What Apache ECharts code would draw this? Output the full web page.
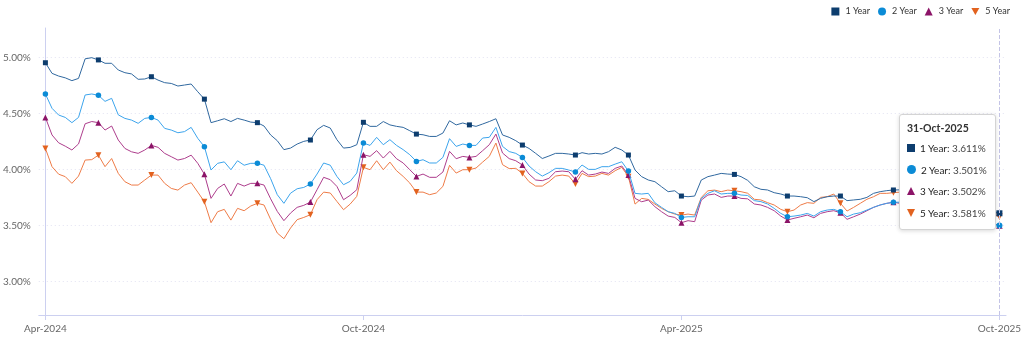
<!DOCTYPE html>
<html>
<head>
<meta charset="utf-8">
<script src="https://cdn.jsdelivr.net/npm/echarts@6/dist/echarts.min.js"></script>
<style>
html,body{margin:0;padding:0;background:#fff;}
#chart{width:1024px;height:338px;}
</style>
</head>
<body>
<div id="chart"></div>
<script>
// ---- data ----
const seriesNames = ['1 Year', '2 Year', '3 Year', '5 Year'];
const startDate = Date.UTC(2024, 3, 3);   // first observation
const stepDays = 4;                        // spacing of sampled observations
const xTickIndex = [0, 48, 96, 144];
const xTickLabels = ['Apr-2024', 'Oct-2024', 'Apr-2025', 'Oct-2025'];
const yTickValues = [3.0, 3.5, 4.0, 4.5, 5.0];

const y1 = [4.955,4.86,4.836,4.82,4.795,4.815,4.99,5.0,4.98,4.95,4.95,4.89,4.866,4.855,4.807,4.81,4.83,4.80,4.777,4.77,
4.747,4.756,4.765,4.696,4.63,4.42,4.437,4.455,4.43,4.458,4.443,4.425,4.42,4.39,4.31,4.259,4.179,4.193,4.229,4.253,
4.265,4.357,4.396,4.372,4.268,4.193,4.199,4.223,4.423,4.387,4.387,4.43,4.40,4.387,4.378,4.348,4.318,4.312,4.297,4.297,
4.327,4.437,4.40,4.417,4.40,4.387,4.408,4.43,4.455,4.31,4.289,4.259,4.22,4.19,4.146,4.10,4.122,4.146,4.146,4.14,
4.131,4.152,4.14,4.146,4.14,4.161,4.20,4.176,4.131,3.997,3.938,3.908,3.893,3.848,3.804,3.812,3.765,3.759,3.765,3.908,
3.938,3.952,3.967,3.961,3.958,3.938,3.905,3.848,3.825,3.819,3.795,3.783,3.765,3.765,3.759,3.75,3.715,3.744,3.759,3.765,
3.765,3.724,3.73,3.736,3.753,3.789,3.804,3.813,3.819,3.82,3.83,3.82,3.81,3.80,3.81,3.79,3.78,3.77,3.76,3.74,
3.72,3.69,3.66,3.63,3.611];

const y2 = [4.676,4.548,4.488,4.467,4.42,4.467,4.667,4.676,4.664,4.61,4.637,4.49,4.458,4.443,4.414,4.458,4.467,4.443,4.369,4.354,
4.33,4.34,4.378,4.28,4.205,3.997,4.057,4.07,4.0,4.08,4.04,4.057,4.057,4.04,3.92,3.777,3.70,3.79,3.83,3.842,
3.872,3.961,4.06,4.04,3.94,3.866,3.896,3.97,4.238,4.217,4.289,4.223,4.268,4.217,4.179,4.134,4.074,4.089,4.06,4.06,
4.11,4.277,4.208,4.229,4.217,4.217,4.283,4.289,4.378,4.208,4.162,4.146,4.11,4.033,3.982,3.943,3.973,4.012,4.012,3.997,
3.979,4.042,4.003,4.003,4.027,4.027,4.05,4.071,3.988,3.789,3.783,3.789,3.705,3.664,3.625,3.61,3.574,3.58,3.58,3.744,
3.789,3.812,3.783,3.789,3.789,3.774,3.77,3.724,3.715,3.694,3.655,3.61,3.58,3.586,3.595,3.61,3.586,3.625,3.64,3.646,
3.625,3.58,3.604,3.616,3.64,3.664,3.685,3.70,3.709,3.71,3.72,3.70,3.69,3.68,3.69,3.67,3.65,3.64,3.62,3.60,
3.58,3.56,3.54,3.52,3.501];

const y3 = [4.467,4.31,4.24,4.21,4.176,4.23,4.41,4.43,4.42,4.354,4.39,4.265,4.19,4.16,4.146,4.176,4.217,4.20,4.146,4.116,
4.086,4.10,4.13,4.057,3.96,3.744,3.833,3.872,3.765,3.878,3.854,3.878,3.878,3.863,3.74,3.628,3.545,3.613,3.664,3.682,
3.711,3.821,3.932,3.911,3.851,3.732,3.771,3.821,4.134,4.119,4.17,4.104,4.164,4.098,4.06,4.0,3.94,3.961,3.932,3.932,
3.979,4.164,4.098,4.119,4.11,4.119,4.17,4.223,4.318,4.149,4.099,4.08,4.042,3.961,3.908,3.902,3.923,3.982,3.988,3.982,
3.914,3.991,3.952,3.961,3.979,3.967,4.012,4.033,3.952,3.744,3.714,3.729,3.67,3.625,3.586,3.574,3.527,3.545,3.536,3.729,
3.774,3.783,3.753,3.765,3.765,3.744,3.74,3.694,3.685,3.664,3.634,3.586,3.551,3.566,3.58,3.595,3.571,3.61,3.625,3.634,
3.616,3.557,3.58,3.604,3.634,3.664,3.685,3.70,3.709,3.70,3.71,3.69,3.68,3.67,3.68,3.66,3.64,3.63,3.61,3.59,
3.57,3.55,3.53,3.52,3.502];

const y5 = [4.19,4.027,3.96,3.938,3.878,3.943,4.086,4.09,4.13,4.027,4.10,3.967,3.893,3.863,3.863,3.908,3.952,3.952,3.878,3.833,
3.818,3.863,3.884,3.80,3.714,3.527,3.625,3.646,3.55,3.655,3.634,3.676,3.70,3.685,3.556,3.435,3.384,3.479,3.554,3.574,
3.598,3.732,3.80,3.792,3.717,3.643,3.693,3.762,4.021,4.0,4.08,4.0,4.068,3.991,3.94,3.881,3.80,3.80,3.777,3.792,
3.851,4.039,3.97,4.0,4.0,4.015,4.068,4.119,4.238,4.045,4.01,4.012,3.967,3.893,3.854,3.854,3.893,3.943,3.952,3.943,
3.872,3.967,3.938,3.943,3.967,3.952,3.991,4.021,3.938,3.693,3.744,3.735,3.693,3.655,3.625,3.604,3.595,3.604,3.595,3.753,
3.812,3.818,3.804,3.818,3.812,3.804,3.79,3.736,3.73,3.706,3.685,3.646,3.625,3.64,3.685,3.706,3.70,3.753,3.759,3.783,
3.70,3.631,3.664,3.70,3.736,3.759,3.789,3.789,3.795,3.80,3.81,3.79,3.78,3.77,3.78,3.76,3.74,3.73,3.71,3.69,
3.67,3.64,3.62,3.60,3.581];

const seriesValues = [y1, y2, y3, y5];

// ---- styling ----
const markerColors = ['#0d3d6e', '#0b8bd6', '#8c1468', '#e2621f'];
const lineColors   = ['#30689f', '#3ca4ec', '#ad3d8c', '#ee7b47'];
const symbols = ['rect', 'circle', 'triangle', 'path://M0,0L10,0L5,9Z'];
const symbolSizes = [5, 5.5, 6, 6];
const markerEvery = 8;
const FONT = 'Lato, "Noto Sans", sans-serif';

const MONTHS = ['Jan','Feb','Mar','Apr','May','Jun','Jul','Aug','Sep','Oct','Nov','Dec'];
function dateLabel(idx) {
  const d = new Date(startDate + idx * stepDays * 86400000);
  const dd = String(d.getUTCDate()).padStart(2, '0');
  return dd + '-' + MONTHS[d.getUTCMonth()] + '-' + d.getUTCFullYear();
}

function markerHtml(k) {
  const c = markerColors[k];
  const base = 'display:inline-block;vertical-align:middle;margin-right:5px;position:relative;top:-1px;';
  if (k === 0) return '<span style="' + base + 'width:8px;height:8px;background:' + c + ';"></span>';
  if (k === 1) return '<span style="' + base + 'width:9px;height:9px;border-radius:50%;background:' + c + ';"></span>';
  if (k === 2) return '<span style="' + base + 'width:0;height:0;border-left:4.5px solid transparent;border-right:4.5px solid transparent;border-bottom:8px solid ' + c + ';"></span>';
  return '<span style="' + base + 'width:0;height:0;border-left:4.5px solid transparent;border-right:4.5px solid transparent;border-top:8px solid ' + c + ';"></span>';
}

const chart = echarts.init(document.getElementById('chart'), null, {renderer: 'canvas'});

const series = seriesNames.map((name, k) => ({
  name: name,
  type: 'line',
  data: seriesValues[k].map((v, i) => [i, v]),
  symbol: symbols[k],
  symbolSize: (val, params) => (params.dataIndex % markerEvery === 0 ? symbolSizes[k] : 0),
  showSymbol: true,
  showAllSymbol: true,
  itemStyle: {color: markerColors[k]},
  lineStyle: {color: lineColors[k], width: 1},
  emphasis: {disabled: true},
  animation: false,
  z: 2 + (3 - k)
}));

chart.setOption({
  animation: false,
  textStyle: {fontFamily: FONT},
  grid: {left: 35, right: 14.3, top: 28, bottom: 23, containLabel: false},
  legend: {
    right: 9, top: 2,
    itemWidth: 8, itemHeight: 8, itemGap: 8,
    textStyle: {fontFamily: FONT, fontSize: 9, color: '#333', padding: [0, 0, 0, 1]},
    data: seriesNames.map((n, k) => ({name: n, icon: symbols[k]})),
    selectedMode: false
  },
  xAxis: {
    type: 'value',
    min: -1, max: 145,
    axisLine: {show: true, lineStyle: {color: '#ccd0f0', width: 1}},
    axisTick: {show: true, customValues: xTickIndex, length: 5, lineStyle: {color: '#ccd0f0'}},
    axisLabel: {
      customValues: xTickIndex,
      margin: 9,
      fontSize: 10, color: '#666', fontFamily: FONT,
      formatter: v => xTickLabels[xTickIndex.indexOf(Math.round(v))] || ''
    },
    splitLine: {show: false}
  },
  yAxis: {
    type: 'value',
    min: 2.703, max: 5.265,
    axisLine: {show: true, lineStyle: {color: '#ccd0f0', width: 1}},
    axisTick: {show: false, customValues: yTickValues},
    axisLabel: {
      customValues: yTickValues,
      margin: 8,
      fontSize: 10, color: '#666', fontFamily: FONT,
      formatter: v => v.toFixed(2) + '%'
    },
    splitLine: {show: true, lineStyle: {color: '#e3e3f2', type: [1, 3], width: 1}}
  },
  tooltip: {
    trigger: 'axis',
    triggerOn: 'none',
    alwaysShowContent: true,
    position: [899, 114],
    backgroundColor: '#ffffff',
    borderColor: '#d4d4d4',
    borderWidth: 1,
    borderRadius: 3,
    padding: [3, 8, 5, 7],
    extraCssText: 'box-shadow:0 1px 4px rgba(0,0,0,0.15);',
    textStyle: {fontFamily: FONT, fontSize: 10, color: '#333'},
    axisPointer: {type: 'line', lineStyle: {type: 'dashed', color: '#c4c4e6', width: 1}, label: {show: false}},
    formatter: params => {
      const idx = params[0].dataIndex;
      let html = '<div style="font-family:Lato,sans-serif;font-size:10px;color:#333;">';
      html += '<div style="font-weight:bold;font-size:10.5px;line-height:20px;">' + dateLabel(idx) + '</div>';
      params.slice().sort((a, b) => a.seriesIndex - b.seriesIndex).forEach(p => {
        const k = p.seriesIndex;
        html += '<div style="white-space:nowrap;line-height:21.5px;">' + markerHtml(k) +
          '<span style="color:#222;">' + p.seriesName + ':</span> <span style="color:#444;">' +
          seriesValues[k][idx].toFixed(3) + '%</span></div>';
      });
      html += '</div>';
      return html;
    }
  },
  series: series
});

chart.dispatchAction({type: 'showTip', seriesIndex: 0, dataIndex: 144});
</script>
</body>
</html>
